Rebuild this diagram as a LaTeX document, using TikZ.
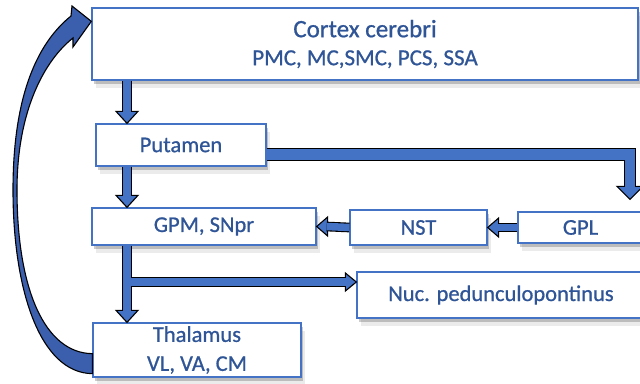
\documentclass[tikz,border=0pt]{standalone}
\usepackage{fontspec}
\setmainfont{Carlito}[FakeBold=0.8]
\usetikzlibrary{calc,shadows}
\definecolor{BoxBlue}{HTML}{4472C4}
\definecolor{LabelBlue}{HTML}{2F5597}
\definecolor{ShaftBlue}{HTML}{4472C4}
\definecolor{LoopBlue}{HTML}{3B5FAD}

\begin{document}
\begin{tikzpicture}[x=1pt, y=-1pt,
    box/.style={draw=BoxBlue, line width=1.3pt, fill=white, text=LabelBlue, align=center, inner sep=0pt,
      drop shadow={shadow xshift=2pt, shadow yshift=-4pt, fill=black, opacity=0.2},
      drop shadow={shadow xshift=4pt, shadow yshift=-8pt, fill=black, opacity=0.08}},
    lbl/.style={font=\fontsize{22.5}{29}\selectfont},
    shaft/.style={draw=black, line width=1.1pt, double=ShaftBlue, double distance=7.5pt, line join=miter},
    headtip/.style={draw=black, line width=1.1pt, fill=ShaftBlue, line join=miter},
    pics/blockhead/.style 2 args={code={\draw[headtip] (0,0) -- (-#1,#2) -- (-#1,-#2) -- cycle;}}]
    \useasboundingbox (0,0) rectangle (640,383);
    \clip (0,0) rectangle (640,383);

    % boxes
    \node[box, font=\fontsize{23}{28}\selectfont, minimum width=546pt, minimum height=72pt] (ctx) at (365,44)
      {{\fontsize{25}{28}\selectfont Cortex cerebri}\\PMC, MC,SMC, PCS, SSA};
    \node[box, lbl, minimum width=170pt, minimum height=42pt] (put) at (181,145) {Putamen};
    \node[box, lbl, minimum width=224pt, minimum height=37pt] (gpm) at (204,226.5) {GPM, SNpr};
    \node[box, lbl, minimum width=137pt, minimum height=35pt] (nst) at (418.5,227.5) {NST};
    \node[box, lbl, minimum width=125pt, minimum height=31pt] (gpl) at (580.5,227.5) {GPL};
    \node[box, lbl, minimum width=288pt, minimum height=46pt] (nuc) at (501,295) {Nuc. pedunculopontinus};
    \node[box, lbl, minimum width=208pt, minimum height=54pt] (thal) at (197,350) {Thalamus\\VL, VA, CM};

    \coordinate (spine) at (127,0);
    \coordinate (bend) at (630,154.5);
    \coordinate (fork) at (127,282);

    % heads first, shafts over their bases
    \pic[rotate=-90] at (put.north -| spine) {blockhead={12}{11}};
    \pic[rotate=-90] at (gpm.north -| spine) {blockhead={12}{11}};
    \pic[rotate=-90] at (thal.north -| spine) {blockhead={12}{11}};
    \pic[rotate=-90] at ($(gpl.north -| bend)+(0,-12)$) {blockhead={13}{13}};
    \pic[rotate=180] at (nst.east) {blockhead={11}{9.5}};
    \pic[rotate=180] at (gpm.east) {blockhead={11}{9.5}};
    \pic at (nuc.west |- fork) {blockhead={11}{9}};

    \draw[shaft] (ctx.south -| spine) -- ($(put.north -| spine)+(0,-11)$);
    \draw[shaft] (put.south -| spine) -- ($(gpm.north -| spine)+(0,-11)$);
    \draw[shaft] (gpm.south -| spine) -- ($(thal.north -| spine)+(0,-11)$)
                 (fork) -- ($(nuc.west |- fork)+(-10,0)$);
    \draw[shaft, double distance=10.5pt] (put.east |- bend) -- (bend) -- ($(gpl.north -| bend)+(0,-24)$);
    \draw[shaft] (gpl.west) -- ($(nst.east)+(10,0)$);
    \draw[shaft] (nst.west) -- ($(gpm.east)+(10,0)$);

    % feedback loop thalamus -> cortex
    \draw[draw=black, line width=1.1pt, fill=LoopBlue, line join=miter]
      ($(thal.south west)+(0,-4)$) -- ($(thal.south west)+(0,-24)$)
      .. controls (45,353) and (17,290) .. (17,190)
      .. controls (17,110) and (45,60) .. (73,38)
      -- (73,47) -- ($(ctx.north west)+(0,14)$) -- (72,6) -- (71,16)
      .. controls (35,45) and (13,100) .. (13,190)
      .. controls (13,290) and (40,373) .. ($(thal.south west)+(0,-4)$) -- cycle;
\end{tikzpicture}
\end{document}
